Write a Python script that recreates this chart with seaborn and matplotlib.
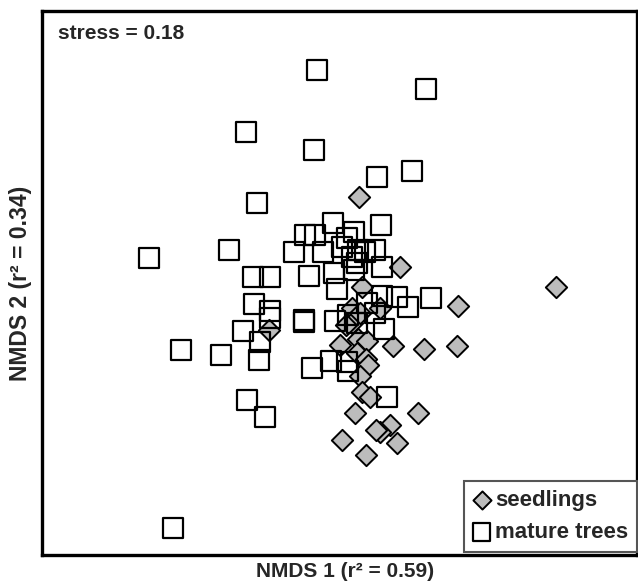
"""NMDS ordination of seedlings vs mature trees."""

import matplotlib

matplotlib.use("Agg")

import matplotlib.pyplot as plt
import pandas as pd
import seaborn as sns

# NMDS scores (arbitrary ordination units)
MATURE_NMDS1 = [
    -0.23, 0.86, -0.94, -0.26, 0.72, 0.37, -0.83, -0.07, 0.41, 0.14,
    0.07, -0.35, -0.25, 0.02, 0.18, 0.25, 0.35, 0.12, 0.17, 0.42,
    -1.91, -1.11, -0.46, -0.17, -0.87, -0.70, -0.31, -0.06, 0.14, -0.03,
    0.27, 0.42, 0.57, 0.68, 0.91, -0.86, -0.70, -0.70, -0.36, -0.36,
    -0.05, 0.08, 0.17, 0.44, -0.97, -0.80, -0.81, -1.59, -1.19, -0.28,
    -0.09, 0.07, 0.08, 0.47, -0.93, -0.75, -1.67, 0.35,
]
MATURE_NMDS2 = [
    2.13, 1.94, 1.51, 1.33, 1.12, 1.06, 0.80, 0.60, 0.58, 0.51,
    0.45, 0.48, 0.48, 0.36, 0.33, 0.31, 0.33, 0.26, 0.20, 0.16,
    0.25, 0.33, 0.31, 0.31, 0.06, 0.06, 0.07, 0.10, 0.13, -0.06,
    -0.20, -0.13, -0.14, -0.24, -0.15, -0.21, -0.28, -0.35, -0.37, -0.39,
    -0.38, -0.32, -0.40, -0.46, -0.48, -0.59, -0.77, -0.67, -0.72, -0.85,
    -0.78, -0.79, -0.88, -1.14, -1.17, -1.34, -2.45, -0.30,
]
SEEDLING_NMDS1 = [
    0.19, 0.60, 2.16, 0.22, 0.12, 0.40, 1.18, -0.71, 0.12, 0.18,
    0.00, 0.27, 0.53, 0.84, 1.17, 0.17, 0.26, 0.28, 0.20, 0.22,
    0.30, 0.15, 0.78, 0.50, 0.40, 0.36, 0.57, 0.02, 0.26, 0.20,
    0.06,
]
SEEDLING_NMDS2 = [
    0.86, 0.16, -0.04, -0.04, -0.25, -0.25, -0.23, -0.47, -0.40, -0.56,
    -0.62, -0.58, -0.63, -0.66, -0.63, -0.70, -0.76, -0.82, -0.93, -1.09,
    -1.14, -1.30, -1.30, -1.42, -1.49, -1.47, -1.60, -1.57, -1.72, -0.30,
    -0.42,
]

STRESS = 0.18
R2_AXIS1 = 0.59
R2_AXIS2 = 0.34

sns.set_theme(style="white")
plt.rcParams["font.family"] = ["Liberation Sans", "DejaVu Sans"]
plt.rcParams["font.weight"] = "bold"

seedlings = pd.DataFrame({"NMDS1": SEEDLING_NMDS1, "NMDS2": SEEDLING_NMDS2})
mature = pd.DataFrame({"NMDS1": MATURE_NMDS1, "NMDS2": MATURE_NMDS2})

fig = plt.figure(figsize=(6.38, 5.84), dpi=100)
ax = fig.add_axes([0.0658, 0.0497, 0.9326, 0.9315])

sns.scatterplot(
    data=seedlings, x="NMDS1", y="NMDS2", ax=ax, marker="D", s=118,
    color="#bcbcbc", edgecolor="black", linewidth=1.4, label="seedlings", zorder=2,
)
sns.scatterplot(
    data=mature, x="NMDS1", y="NMDS2", ax=ax, marker="s", s=210,
    facecolor="none", edgecolor="black", linewidth=1.6, label="mature trees", zorder=3,
)

ax.set_xlim(-2.98, 2.97)
ax.set_ylim(-2.72, 2.72)
ax.set_xticks([])
ax.set_yticks([])
for spine in ax.spines.values():
    spine.set_linewidth(2.4)
    spine.set_color("black")

ax.set_xlabel(f"NMDS 1 (r\u00b2 = {R2_AXIS1:.2f})", fontsize=15, fontweight="bold")
ax.xaxis.set_label_coords(0.51, -0.012, transform=ax.transAxes)
ax.xaxis.label.set_va("top")
ax.set_ylabel(f"NMDS 2 (r\u00b2 = {R2_AXIS2:.2f})", fontsize=16.5, fontweight="bold", labelpad=7)
ax.text(0.027, 0.958, f"stress = {STRESS:.2f}", transform=ax.transAxes,
        fontsize=15, fontweight="bold", va="center", ha="left")

legend = ax.legend(
    loc="lower right", bbox_to_anchor=(1.0, 0.006), borderaxespad=0,
    frameon=True, fancybox=False, framealpha=1, markerscale=0.85,
    handlelength=0.8, handletextpad=0.2, labelspacing=0.5, borderpad=0.4,
    prop={"size": 16, "weight": "bold"},
)
legend.get_frame().set_edgecolor("#555555")
legend.get_frame().set_linewidth(1.5)

plt.savefig("out.png", dpi=100)
plt.close()
